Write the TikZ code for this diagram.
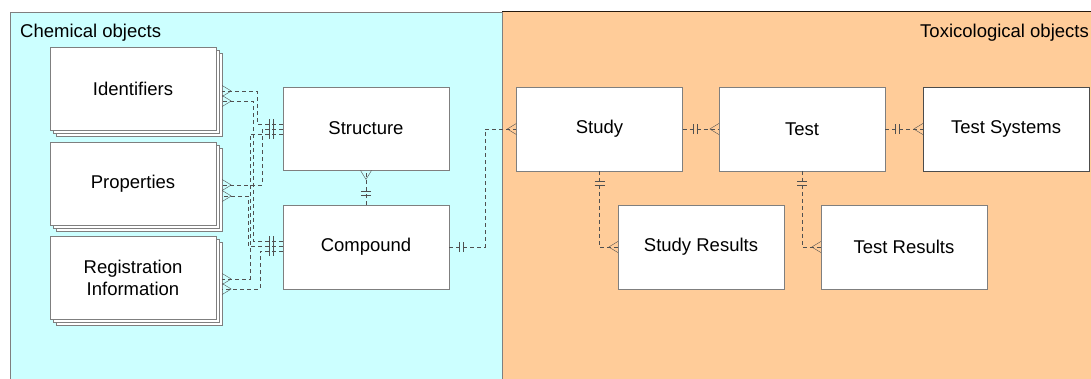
\documentclass[tikz,border=0pt]{standalone}
\usepackage{fontspec}
\setmainfont{Liberation Sans}
\usetikzlibrary{decorations.markings,shadows}

\definecolor{chem}{HTML}{CCFFFF}
\definecolor{tox}{HTML}{FFCC99}
\definecolor{edge}{HTML}{7F7F7F}
\definecolor{link}{HTML}{505050}

\begin{document}
\begin{tikzpicture}
          [x=1pt,y=-1pt,font=\fontsize{18.5}{22}\selectfont,
           entity/.style={draw=edge,fill=white,minimum width=166pt,minimum height=83.5pt,inner sep=0pt,align=center},
           stack/.style={entity,double copy shadow={shadow xshift=3pt,shadow yshift=-3pt}},
           rel/.style={draw=link,dash pattern=on 4pt off 3pt,postaction={decorate,decoration={markings,
             mark=at position 10pt with {\draw[solid,link] (0,-5pt) -- (0,5pt);},
             mark=at position 14pt with {\draw[solid,link] (0,-5pt) -- (0,5pt);},
             mark=at position 1 with {\draw[solid,link] (-9pt,0) -- (0,5.5pt) (-9pt,0) -- (0,-5.5pt);}}}}]

          \useasboundingbox (0,0) rectangle (1091,378);

          % the two groups
          \filldraw[fill=chem,draw=edge] (10,12) rectangle (502,382);
          \fill[tox] (502,11) rectangle (1095,382);
          \draw[edge] (502,382) -- (502,11);
          \draw[black!80!brown] (502,11) -- (1095,11);
          \node[inner sep=0pt,anchor=base west] (chemtitle) at (20,37.5) {Chemical objects};
          \node[inner sep=0pt,anchor=base west] (toxtitle) at (920,37.5) {Toxicological objects};

          % chemical objects
          \node[stack] (ident) at (133,88.5) {Identifiers};
          \node[stack] (prop) at (133,183.5) {Properties};
          \node[stack] (reg) at (133,277.5) {Registration\\Information};
          \node[entity] (structure) at (366,128.5) {Structure};
          \node[entity] (compound) at (366,247) {Compound};

          % toxicological objects
          \node[entity] (study) at (599.5,129) {Study};
          \node[entity] (test) at (802,129) {Test};
          \node[entity,draw=black!70] (system) at (1006,129) {Test Systems};
          \node[entity] (studyres) at (701,247) {Study Results};
          \node[entity] (testres) at (904,247) {Test Results};

          % rear edges of the stacks
          \coordinate (identR) at ([xshift=6pt]ident.east);
          \coordinate (propR) at ([xshift=6pt]prop.east);
          \coordinate (regR) at ([xshift=6pt]reg.east);

          \draw[rel] (structure.west |- 0,124) -| (257,91) -- (identR |- 0,91);
          \draw[rel] (structure.west |- 0,129) -| (262,185) -- (propR |- 0,185);
          \draw[rel] (structure.west |- 0,134) -| (250,279) -- (regR |- 0,279);
          \draw[rel] (compound.west |- 0,241) -| (253,101) -- (identR |- 0,101);
          \draw[rel] (compound.west |- 0,246) -| (248,196) -- (propR |- 0,196);
          \draw[rel] (compound.west |- 0,251) -| (260,289) -- (regR |- 0,289);

          \draw[rel] (compound) -- (structure);
          \draw[rel] (compound.east) -| (485,129) -- (study.west |- 0,129);
          \draw[rel] (study) -- (test);
          \draw[rel] (test) -- (system);
          \draw[rel] (study.south) |- (studyres.west);
          \draw[rel] (test.south) |- (testres.west);
        \end{tikzpicture}
\end{document}
